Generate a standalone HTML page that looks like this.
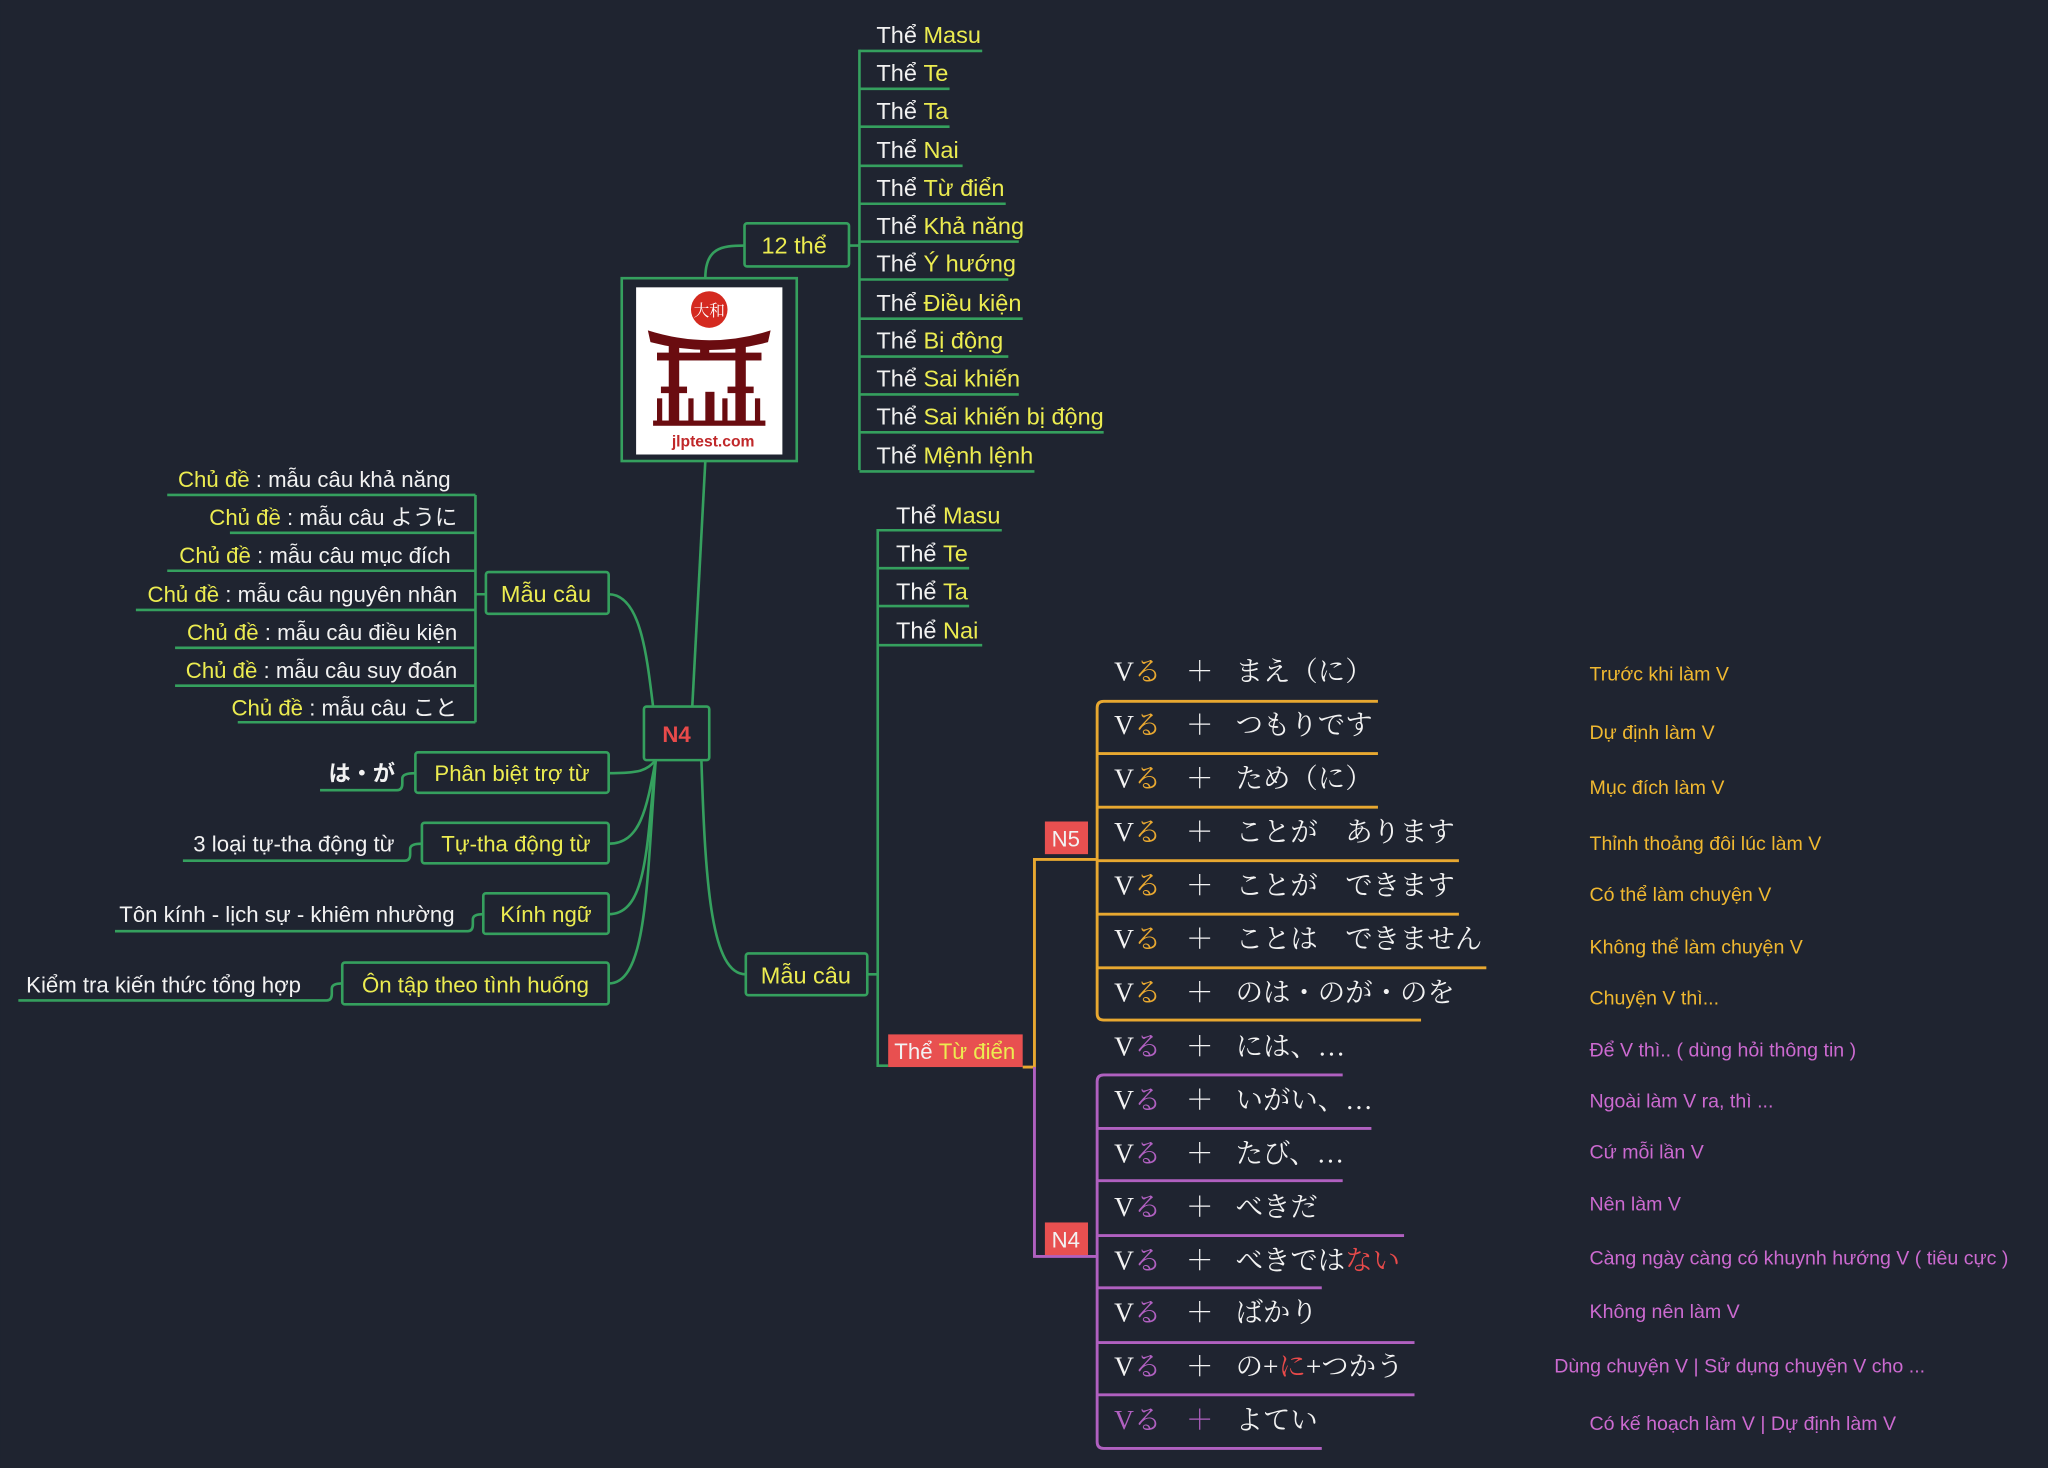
<!DOCTYPE html>
<html><head><meta charset="utf-8"><style>
html,body{margin:0;padding:0;background:#1f2430;}
svg{display:block}
text{font-family:"Liberation Sans","Noto Sans CJK JP",sans-serif;}
.w{fill:#f2f2f2}.y{fill:#ecec50}
.jp,.jp text{font-family:"Liberation Serif","Noto Serif CJK SC","Noto Serif CJK JP",serif;font-size:21px;fill:#f2f2f2}
.g{stroke:#35a05e;stroke-width:2;fill:none}
.o{stroke:#e8a830;stroke-width:2.2;fill:none}
.p{stroke:#b060c0;stroke-width:2.2;fill:none}
.box{fill:#1f2430;stroke:#35a05e;stroke-width:2}
</style></head><body>
<svg width="2048" height="1468" viewBox="0 0 1568 1124" xmlns="http://www.w3.org/2000/svg">
<rect width="1568" height="1124" fill="#1f2430"/>

<path class="g" d="M540 213 C540 190 552 188 570 188"/>
<path class="g" d="M540 353 L530 541"/>
<path class="g" d="M466 455 C490 455 495 500 500 541"/>
<path class="g" d="M502 582 C495 590 490 592 466 592"/>
<path class="g" d="M502 582 C495 620 490 646 466 646"/>
<path class="g" d="M502 582 C495 650 495 700 466 700"/>
<path class="g" d="M502 582 C495 680 495 753 466 753"/>
<path class="g" d="M537 582 C540 680 545 746 571 746"/>

<rect class="box" x="570" y="171" width="80" height="33" rx="2"/>
<text x="608" y="194" text-anchor="middle" class="y" font-size="18">12 thể</text>
<path class="g" d="M650 188 L658 188 M658 38 L658 360"/>
<g font-size="18">
<text x="671" y="33"><tspan class="w">Thể </tspan><tspan class="y">Masu</tspan></text>
<text x="671" y="62"><tspan class="w">Thể </tspan><tspan class="y">Te</tspan></text>
<text x="671" y="91"><tspan class="w">Thể </tspan><tspan class="y">Ta</tspan></text>
<text x="671" y="121"><tspan class="w">Thể </tspan><tspan class="y">Nai</tspan></text>
<text x="671" y="150"><tspan class="w">Thể </tspan><tspan class="y">Từ điển</tspan></text>
<text x="671" y="179"><tspan class="w">Thể </tspan><tspan class="y">Khả năng</tspan></text>
<text x="671" y="208"><tspan class="w">Thể </tspan><tspan class="y">Ý hướng</tspan></text>
<text x="671" y="238"><tspan class="w">Thể </tspan><tspan class="y">Điều kiện</tspan></text>
<text x="671" y="267"><tspan class="w">Thể </tspan><tspan class="y">Bị động</tspan></text>
<text x="671" y="296"><tspan class="w">Thể </tspan><tspan class="y">Sai khiến</tspan></text>
<text x="671" y="325"><tspan class="w">Thể </tspan><tspan class="y">Sai khiến bị động</tspan></text>
<text x="671" y="355"><tspan class="w">Thể </tspan><tspan class="y">Mệnh lệnh</tspan></text>
</g>
<path class="g" d="M658 39H752 M658 68H727 M658 97H727 M658 127H737 M658 156H770 M658 185H780 M658 214H772 M658 244H783 M658 273H772 M658 302H780 M658 331H845 M658 361H792"/>

<rect class="box" x="476" y="213" width="134" height="140"/>
<rect x="487" y="220" width="112" height="128" fill="#fff"/>
<circle cx="543" cy="237" r="14" fill="#d42a20"/>
<text x="543" y="242" text-anchor="middle" font-size="12" fill="#fff" style="font-family:'Noto Serif CJK SC',serif">大和</text>
<g fill="#6a0c10">
<path d="M496 253 Q543 268 590 253 L588 262 Q543 274 498 262Z"/>
<rect x="503" y="270" width="80" height="6"/>
<rect x="512" y="262" width="8" height="62"/><rect x="563" y="262" width="8" height="62"/>
<rect x="536" y="262" width="7" height="14"/>
<rect x="506" y="296" width="20" height="5"/><rect x="557" y="296" width="20" height="5"/>
<rect x="503" y="305" width="4" height="20"/><rect x="527" y="305" width="4" height="20"/>
<rect x="553" y="305" width="4" height="20"/><rect x="578" y="305" width="4" height="20"/>
<rect x="540" y="300" width="7" height="25"/>
<rect x="500" y="322" width="86" height="4"/>
</g>
<text x="546" y="342" text-anchor="middle" font-size="12" font-weight="bold" fill="#c0282a">jlptest.com</text>

<rect class="box" x="493" y="541" width="50" height="41" rx="2"/>
<text x="518" y="568" text-anchor="middle" font-size="17" font-weight="bold" fill="#e84a4a">N4</text>

<rect class="box" x="372" y="438" width="94" height="32" rx="2"/>
<text x="418" y="461" text-anchor="middle" class="y" font-size="18">Mẫu câu</text>
<path class="g" d="M372 455H364 M364 379V553"/>
<g font-size="17" text-anchor="end">
<text x="345" y="373"><tspan class="y">Chủ đề</tspan><tspan class="w"> : mẫu câu khả năng</tspan></text>
<text x="350" y="402"><tspan class="y">Chủ đề</tspan><tspan class="w"> : mẫu câu ように</tspan></text>
<text x="345" y="431"><tspan class="y">Chủ đề</tspan><tspan class="w"> : mẫu câu mục đích</tspan></text>
<text x="350" y="461"><tspan class="y">Chủ đề</tspan><tspan class="w"> : mẫu câu nguyên nhân</tspan></text>
<text x="350" y="490"><tspan class="y">Chủ đề</tspan><tspan class="w"> : mẫu câu điều kiện</tspan></text>
<text x="350" y="519"><tspan class="y">Chủ đề</tspan><tspan class="w"> : mẫu câu suy đoán</tspan></text>
<text x="350" y="548"><tspan class="y">Chủ đề</tspan><tspan class="w"> : mẫu câu こと</tspan></text>
</g>
<path class="g" d="M128 379H364 M176 408H364 M128 437H364 M104 467H364 M134 496H364 M134 525H364 M182 553H364"/>

<rect class="box" x="318" y="576" width="148" height="31" rx="2"/>
<text x="392" y="598" text-anchor="middle" class="y" font-size="17">Phân biệt trợ từ</text>
<text x="277" y="598" text-anchor="middle" class="w" font-size="17" font-weight="bold">は・が</text>
<path class="g" d="M245 605H304 Q308 605 308 600 V596 Q308 592 318 592"/>

<rect class="box" x="323" y="630" width="143" height="31" rx="2"/>
<text x="395" y="652" text-anchor="middle" class="y" font-size="17">Tự-tha động từ</text>
<text x="302" y="652" text-anchor="end" class="w" font-size="17">3 loại tự-tha động từ</text>
<path class="g" d="M140 659H310 Q314 659 314 654 V650 Q314 646 323 646"/>

<rect class="box" x="370" y="684" width="96" height="31" rx="2"/>
<text x="418" y="706" text-anchor="middle" class="y" font-size="17">Kính ngữ</text>
<text x="348" y="706" text-anchor="end" class="w" font-size="17">Tôn kính - lịch sự - khiêm nhường</text>
<path class="g" d="M88 713H358 Q362 713 362 708 V704 Q362 700 370 700"/>

<rect class="box" x="262" y="737" width="204" height="32" rx="2"/>
<text x="364" y="760" text-anchor="middle" class="y" font-size="17">Ôn tập theo tình huống</text>
<text x="20" y="760" class="w" font-size="17">Kiểm tra kiến thức tổng hợp</text>
<path class="g" d="M14 766H250 Q254 766 254 761 V757 Q254 753 262 753"/>

<rect class="box" x="571" y="730" width="93" height="32" rx="2"/>
<text x="617" y="753" text-anchor="middle" class="y" font-size="18">Mẫu câu</text>
<path class="g" d="M664 746H672 M672 405V816 H680"/>
<g font-size="18">
<text x="686" y="401"><tspan class="w">Thể </tspan><tspan class="y">Masu</tspan></text>
<text x="686" y="430"><tspan class="w">Thể </tspan><tspan class="y">Te</tspan></text>
<text x="686" y="459"><tspan class="w">Thể </tspan><tspan class="y">Ta</tspan></text>
<text x="686" y="489"><tspan class="w">Thể </tspan><tspan class="y">Nai</tspan></text>
</g>
<path class="g" d="M672 406H767 M672 435H742 M672 464H742 M672 494H752"/>
<rect x="680" y="792" width="103" height="25" fill="#e85050"/>
<text x="731" y="811" text-anchor="middle" font-size="17"><tspan class="w">Thể </tspan><tspan class="y">Từ điển</tspan></text>

<path class="o" d="M783 817H792V658H840"/>
<path class="p" d="M792 817V962H840"/>
<rect x="800" y="629" width="33" height="25" fill="#e85050"/>
<text x="816" y="648" text-anchor="middle" class="w" font-size="17">N5</text>
<rect x="800" y="936" width="33" height="25" fill="#e85050"/>
<text x="816" y="955" text-anchor="middle" class="w" font-size="17">N4</text>

<path class="o" d="M1055 537H845 Q840 537 840 542 V776 Q840 781 845 781 H1088 M840 577H1055 M840 618H1055 M840 659H1117 M840 700H1117 M840 741H1138"/>
<path class="p" d="M1028 823H845 Q840 823 840 828 V1104 Q840 1109 845 1109 H1012 M840 864H1050 M840 904H1028 M840 946H1075 M840 986H1012 M840 1028H1083 M840 1068H1083"/>

<g class="jp">
<text x="853" y="521">V<tspan fill="#e8a830">る</tspan><tspan x="908">＋</tspan><tspan x="946">まえ（に）</tspan></text>
<text x="853" y="562">V<tspan fill="#e8a830">る</tspan><tspan x="908">＋</tspan><tspan x="946">つもりです</tspan></text>
<text x="853" y="603">V<tspan fill="#e8a830">る</tspan><tspan x="908">＋</tspan><tspan x="946">ため（に）</tspan></text>
<text x="853" y="644">V<tspan fill="#e8a830">る</tspan><tspan x="908">＋</tspan><tspan x="946">ことが　あります</tspan></text>
<text x="853" y="685">V<tspan fill="#e8a830">る</tspan><tspan x="908">＋</tspan><tspan x="946">ことが　できます</tspan></text>
<text x="853" y="726">V<tspan fill="#e8a830">る</tspan><tspan x="908">＋</tspan><tspan x="946">ことは　できません</tspan></text>
<text x="853" y="767">V<tspan fill="#e8a830">る</tspan><tspan x="908">＋</tspan><tspan x="946">のは・のが・のを</tspan></text>
<text x="853" y="808">V<tspan fill="#b060c0">る</tspan><tspan x="908">＋</tspan><tspan x="946">には、…</tspan></text>
<text x="853" y="849">V<tspan fill="#b060c0">る</tspan><tspan x="908">＋</tspan><tspan x="946">いがい、…</tspan></text>
<text x="853" y="890">V<tspan fill="#b060c0">る</tspan><tspan x="908">＋</tspan><tspan x="946">たび、…</tspan></text>
<text x="853" y="931">V<tspan fill="#b060c0">る</tspan><tspan x="908">＋</tspan><tspan x="946">べきだ</tspan></text>
<text x="853" y="972">V<tspan fill="#b060c0">る</tspan><tspan x="908">＋</tspan><tspan x="946">べきでは<tspan fill="#e84a4a">ない</tspan></tspan></text>
<text x="853" y="1012">V<tspan fill="#b060c0">る</tspan><tspan x="908">＋</tspan><tspan x="946">ばかり</tspan></text>
<text x="853" y="1053">V<tspan fill="#b060c0">る</tspan><tspan x="908">＋</tspan><tspan x="946">の+<tspan fill="#e84a4a">に</tspan>+つかう</tspan></text>
<text x="853" y="1094"><tspan fill="#b060c0">Vる</tspan><tspan x="908" fill="#b060c0">＋</tspan><tspan x="946">よてい</tspan></text>
</g>

<g font-size="15" fill="#f0b830">
<text x="1217" y="521">Trước khi làm V</text>
<text x="1217" y="566">Dự định làm V</text>
<text x="1217" y="608">Mục đích làm V</text>
<text x="1217" y="651">Thỉnh thoảng đôi lúc làm V</text>
<text x="1217" y="690">Có thể làm chuyện V</text>
<text x="1217" y="730">Không thể làm chuyện V</text>
<text x="1217" y="769">Chuyện V thì...</text>
</g>
<g font-size="15" fill="#cc6ad0">
<text x="1217" y="809">Để V thì.. ( dùng hỏi thông tin )</text>
<text x="1217" y="848">Ngoài làm V ra, thì ...</text>
<text x="1217" y="887">Cứ mỗi lần V</text>
<text x="1217" y="927">Nên làm V</text>
<text x="1217" y="968">Càng ngày càng có khuynh hướng V ( tiêu cực )</text>
<text x="1217" y="1009">Không nên làm V</text>
<text x="1190" y="1051">Dùng chuyện V  |  Sử dụng chuyện V cho ...</text>
<text x="1217" y="1095">Có kế hoạch làm V  | Dự định làm V</text>
</g>
</svg>
</body></html>
